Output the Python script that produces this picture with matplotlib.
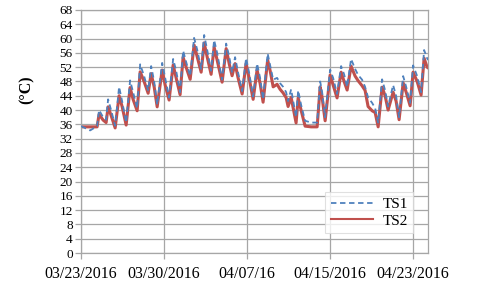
import matplotlib

matplotlib.use("Agg")
import matplotlib.pyplot as plt

# days since 03/23/2016 (axis runs in equal steps of 8 between labelled ticks)
days = [
    0.00, 0.87, 1.54, 1.73, 2.12, 2.41, 2.60, 2.89, 3.28, 3.66,
    3.95, 4.34, 4.72, 5.01, 5.40, 5.69, 6.07, 6.46, 6.75, 7.04,
    7.33, 7.81, 8.10, 8.48, 8.87, 9.16, 9.54, 9.83, 10.12, 10.51,
    10.89, 11.18, 11.57, 11.86, 12.14, 12.53, 12.82, 13.11, 13.59, 13.98,
    14.27, 14.55, 14.84, 15.13, 15.52, 15.90, 16.19, 16.58, 16.96, 17.25,
    17.54, 17.98, 18.22, 18.51, 18.89, 19.18, 19.47, 19.76, 19.95, 20.24,
    20.72, 20.92, 21.20, 21.59, 22.17, 22.75, 23.04, 23.23, 23.52, 24.00,
    24.29, 24.67, 25.06, 25.35, 25.64, 26.02, 26.41, 26.70, 27.08, 27.37,
    27.66, 28.05, 28.34, 28.63, 29.01, 29.30, 29.59, 30.07, 30.36, 30.65,
    31.04, 31.33, 31.71, 32.00, 32.39, 32.77, 33.06, 33.35, 33.45,
]
ts2 = [
    35.3, 35.3, 35.3, 38.8, 37.2, 36.5, 40.9, 38.5, 35.0, 44.0,
    41.0, 35.8, 46.3, 43.0, 39.8, 50.7, 48.0, 44.7, 50.2, 46.5,
    40.9, 51.2, 47.0, 42.8, 52.6, 49.0, 44.3, 54.8, 52.0, 48.6,
    58.2, 55.0, 50.6, 58.8, 55.0, 50.0, 57.6, 54.0, 47.8, 57.2,
    53.0, 49.6, 53.0, 49.0, 44.5, 53.0, 49.0, 43.0, 51.2, 47.5,
    42.2, 54.0, 51.0, 46.5, 47.2, 45.8, 44.8, 43.5, 41.0, 43.6,
    36.4, 43.4, 40.0, 35.5, 35.3, 35.3, 46.5, 43.5, 37.0, 49.8,
    47.0, 43.4, 50.6, 48.0, 45.6, 52.3, 49.5, 48.2, 46.8, 45.5,
    41.0, 39.8, 39.3, 35.3, 46.4, 44.0, 40.0, 45.0, 42.5, 37.3,
    47.6, 45.0, 41.2, 50.6, 48.0, 44.2, 54.5, 52.0, 51.8,
]
ts1 = [
    35.5, 34.3, 35.5, 40.0, 38.0, 37.3, 43.0, 40.0, 35.6, 46.5,
    42.5, 36.5, 48.3, 45.0, 40.5, 52.8, 49.5, 45.5, 52.3, 48.0,
    41.5, 53.2, 49.0, 43.5, 54.3, 51.0, 45.0, 56.6, 53.5, 49.5,
    60.2, 57.0, 51.5, 61.0, 57.0, 51.0, 59.6, 56.0, 48.5, 58.6,
    55.0, 50.5, 54.8, 50.5, 45.3, 54.5, 50.5, 43.8, 53.0, 49.0,
    43.0, 55.8, 52.5, 48.5, 49.0, 47.5, 46.5, 45.0, 42.5, 45.8,
    38.0, 45.5, 41.5, 37.0, 36.5, 36.5, 48.0, 45.0, 38.0, 51.3,
    49.0, 44.5, 52.3, 50.0, 46.5, 54.3, 51.5, 49.8, 48.5, 46.5,
    43.5, 42.0, 40.5, 36.5, 48.6, 45.5, 41.0, 47.0, 44.0, 38.0,
    49.5, 46.5, 42.0, 52.5, 49.5, 45.0, 56.8, 54.5, 54.0,
]
tick_pos = [0, 8, 16, 24, 32]
tick_labels = ["03/23/2016", "03/30/2016", "04/07/16", "04/15/2016", "04/23/2016"]

plt.rcParams["font.family"] = ["Liberation Serif", "DejaVu Serif"]

fig = plt.figure(figsize=(4.8, 3.03), dpi=100, facecolor="w")
ax = fig.add_axes([0.169, 0.165, 0.723, 0.802])

ax.plot(days, ts1, color="#4f81bd", linestyle=(0, (3, 2)), linewidth=1.3, label="TS1", zorder=3)
ax.plot(days, ts2, color="#c0504d", linewidth=2.2, label="TS2", zorder=2)

ax.set_xlim(0, 33.45)
ax.set_ylim(0, 68)
ax.set_yticks(range(0, 69, 4))
ax.set_xticks(tick_pos)
ax.set_xticklabels(tick_labels)
ax.grid(True, color="#a6a6a6", linewidth=0.9)
ax.set_axisbelow(True)
for s in ax.spines.values():
    s.set_color("#a6a6a6")
    s.set_linewidth(0.9)
ax.tick_params(axis="both", colors="#a6a6a6", labelcolor="black", length=4, width=0.9)
ax.tick_params(axis="y", pad=2, labelsize=9.5)
ax.tick_params(axis="x", pad=5, labelsize=11.5)

fig.text(0.056, 0.705, "(°C)", rotation=90, fontsize=11.5, fontweight="bold", ha="center", va="center")

leg = ax.legend(loc="lower right", bbox_to_anchor=(0.957, 0.082), borderaxespad=0, fontsize=11,
                frameon=True, fancybox=False, edgecolor="#d9d9d9", handlelength=2.8, borderpad=0.35,
                labelspacing=0.2, handletextpad=0.6)
leg.get_frame().set_linewidth(0.8)
leg.get_lines()[1].set_linewidth(1.5)

plt.savefig("out.png", dpi=100)
plt.close(fig)
